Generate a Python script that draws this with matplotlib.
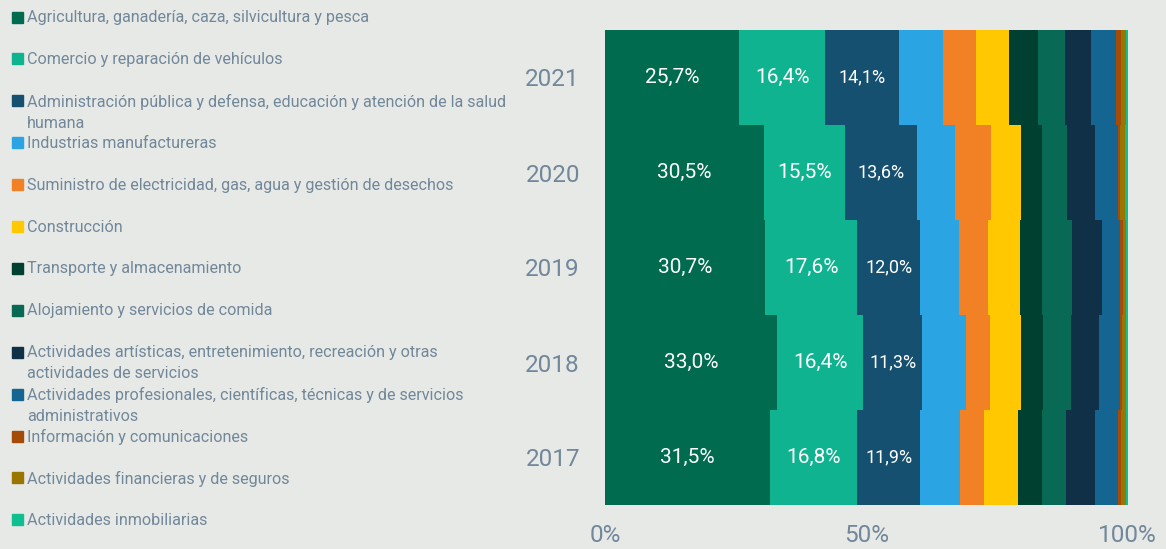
import matplotlib
matplotlib.use("Agg")
import matplotlib.pyplot as plt
import numpy as np

years = ["2021", "2020", "2019", "2018", "2017"]
sectors = [
    "Agricultura, ganadería, caza, silvicultura y pesca",
    "Comercio y reparación de vehículos",
    "Administración pública y defensa, educación y atención de la salud\nhumana",
    "Industrias manufactureras",
    "Suministro de electricidad, gas, agua y gestión de desechos",
    "Construcción",
    "Transporte y almacenamiento",
    "Alojamiento y servicios de comida",
    "Actividades artísticas, entretenimiento, recreación y otras\nactividades de servicios",
    "Actividades profesionales, científicas, técnicas y de servicios\nadministrativos",
    "Información y comunicaciones",
    "Actividades financieras y de seguros",
    "Actividades inmobiliarias",
]
colors = ["#006B4F", "#10B390", "#165070", "#2BA4E3", "#F28024", "#FFC800",
          "#004030", "#086A55", "#0F3046", "#156592", "#A54B0A", "#9A7600", "#10BF90"]

# shares (%) per sector, order of years: 2021, 2020, 2019, 2018, 2017
values = [
    [25.7, 30.5, 30.7, 33.0, 31.5],
    [16.4, 15.5, 17.6, 16.4, 16.8],
    [14.1, 13.6, 12.0, 11.3, 11.9],
    [8.4, 7.3, 7.4, 8.4, 7.8],
    [6.3, 6.9, 5.5, 4.5, 4.5],
    [6.3, 5.8, 6.1, 6.0, 6.5],
    [5.6, 4.0, 4.3, 4.2, 4.6],
    [5.2, 4.8, 5.8, 5.3, 4.6],
    [4.9, 5.3, 5.6, 5.5, 5.5],
    [4.9, 4.4, 3.5, 3.9, 4.4],
    [0.9, 0.5, 0.6, 0.5, 0.7],
    [1.0, 0.9, 0.6, 0.6, 0.8],
    [0.3, 0.5, 0.3, 0.4, 0.4],
]
n_labeled = 3
xticks = [0, 50, 100]
xticklabels = ["0%", "50%", "100%"]

bg = "#E7E9E6"
txt = "#71879A"
W, H = 1166, 549
fig = plt.figure(figsize=(W / 100, H / 100), dpi=100, facecolor=bg)
ax = fig.add_axes([605 / W, (H - 505) / H, (1127.7 - 605) / W, 475 / H])
ax.set_facecolor(bg)

ypos = np.arange(len(years))
left = np.zeros(len(years))
for i, (name, col) in enumerate(zip(sectors, colors)):
    vals = np.array(values[i])
    ax.barh(ypos, vals, left=left, height=1.0, color=col, linewidth=0)
    if i < n_labeled:
        fs = 15 if i < 2 else 13
        for y, v, l in zip(ypos, vals, left):
            ax.text(l + v / 2, y, f"{v:.1f}%".replace(".", ","), ha="center", va="center",
                    color="white", fontsize=fs, family="Roboto")
    left += vals

ax.set_xlim(0, 100)
ax.set_ylim(len(years) - 0.5, -0.5)
for s in ax.spines.values():
    s.set_visible(False)
ax.set_xticks(xticks)
ax.set_xticklabels(xticklabels, family="Roboto", fontsize=17.5, color=txt)
ax.tick_params(axis="x", length=0, pad=14)
ax.set_yticks(ypos)
ax.set_yticklabels(years, family="Roboto", fontsize=17.5, color=txt)
ax.tick_params(axis="y", length=0, pad=18)

# legend (manual)
y0, step = 17, 41.9
for i, (name, col) in enumerate(zip(sectors, colors)):
    yc = y0 + i * step
    fig.patches.append(plt.Rectangle((12 / W, (H - yc - 5.5) / H), 11 / W, 11 / H,
                                     transform=fig.transFigure, color=col))
    fig.text(27 / W, (H - yc + 7) / H, name, ha="left", va="top", color=txt,
             fontsize=11.6, family="Roboto", linespacing=1.5)

fig.savefig("out.png", dpi=100, facecolor=bg)
